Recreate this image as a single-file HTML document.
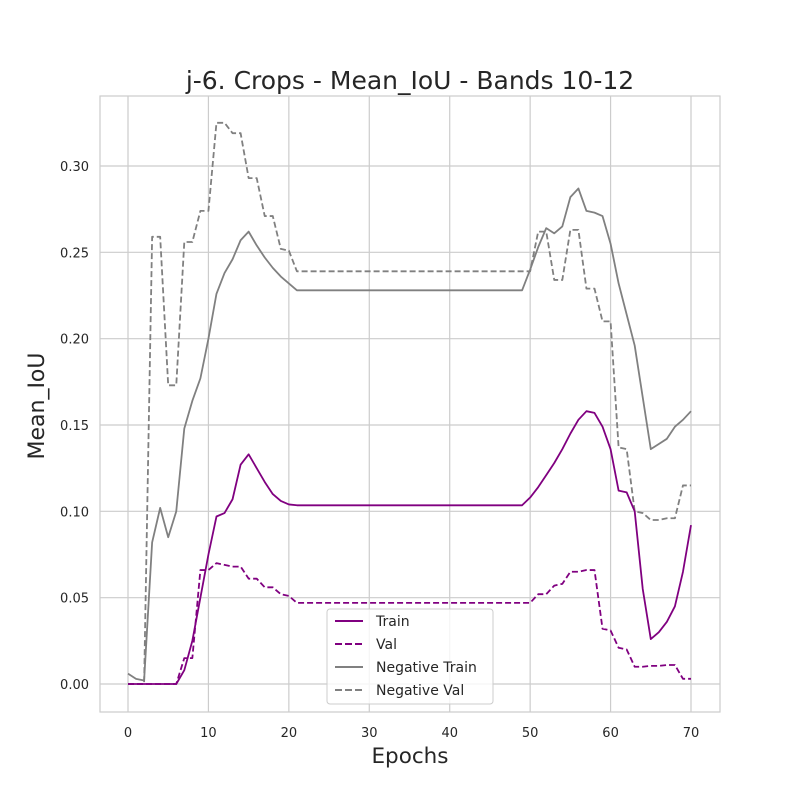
<!DOCTYPE html>
<html><head><meta charset="utf-8"><style>
body{margin:0;background:#fff}
svg{display:block;font-family:"DejaVu Sans","Liberation Sans",sans-serif}
</style></head><body>
<svg id="chart" width="800" height="800" xmlns="http://www.w3.org/2000/svg">
<rect width="800" height="800" fill="#fff"/>
<text x="410" y="89" text-anchor="middle" font-size="25" fill="#262626">j-6. Crops - Mean_IoU - Bands 10-12</text>
<g id="grid"></g>
<rect x="100" y="96" width="620" height="616" fill="none" stroke="#cccccc" stroke-width="1.2"/>
<g id="series"></g>
<text x="410" y="763" text-anchor="middle" font-size="21.5" fill="#262626">Epochs</text>
<text transform="translate(44,406) rotate(-90)" text-anchor="middle" font-size="22" fill="#262626">Mean_IoU</text>
<g>
<rect x="327" y="609" width="166" height="95" rx="3" fill="#fff" fill-opacity="0.8" stroke="#cccccc"/>
<line x1="335" y1="621" x2="363" y2="621" stroke="#800080" stroke-width="2"/>
<text x="376" y="626" font-size="14" fill="#262626">Train</text>
<line x1="335" y1="644" x2="363" y2="644" stroke="#800080" stroke-width="2" stroke-dasharray="7,3"/>
<text x="376" y="649" font-size="14" fill="#262626">Val</text>
<line x1="335" y1="667" x2="363" y2="667" stroke="#808080" stroke-width="2"/>
<text x="376" y="672" font-size="14" fill="#262626">Negative Train</text>
<line x1="335" y1="690" x2="363" y2="690" stroke="#808080" stroke-width="2" stroke-dasharray="7,3"/>
<text x="376" y="695" font-size="14" fill="#262626">Negative Val</text>
</g>
</svg>
<script>
const xTicks=[0,10,20,30,40,50,60,70];
const yTicks=[0,0.05,0.10,0.15,0.20,0.25,0.30];
const yTickLabels=["0.00","0.05","0.10","0.15","0.20","0.25","0.30"];
function rep(v,n){return Array(n).fill(v);}
const train=[0,0,0,0,0,0,0,0.008,0.025,0.05,0.075,0.097,0.099,0.107,0.127,0.133,0.125,0.117,0.11,0.106,0.104].concat(rep(0.1035,29),[0.108,0.114,0.121,0.128,0.136,0.145,0.153,0.158,0.157,0.149,0.136,0.112,0.111,0.1,0.055,0.026,0.03,0.036,0.045,0.065,0.092]);
const val=[0,0,0,0,0,0,0,0.015,0.015,0.066,0.066,0.07,0.069,0.068,0.068,0.061,0.061,0.056,0.056,0.052,0.051].concat(rep(0.047,30),[0.052,0.052,0.057,0.058,0.065,0.065,0.066,0.066,0.032,0.031,0.021,0.02,0.01,0.01,0.0105,0.0105,0.011,0.011,0.003,0.003]);
const negTrain=[0.006,0.003,0.002,0.082,0.102,0.085,0.1,0.148,0.164,0.177,0.2,0.226,0.238,0.246,0.257,0.262,0.254,0.247,0.241,0.236,0.232].concat(rep(0.228,29),[0.24,0.253,0.264,0.261,0.265,0.282,0.287,0.274,0.273,0.271,0.255,0.232,0.214,0.196,0.166,0.136,0.139,0.142,0.149,0.153,0.158]);
const negVal=[0,0,0,0.259,0.259,0.173,0.173,0.256,0.256,0.274,0.274,0.325,0.325,0.319,0.319,0.293,0.293,0.271,0.271,0.252,0.251].concat(rep(0.239,30),[0.262,0.262,0.234,0.234,0.263,0.263,0.229,0.229,0.21,0.21,0.137,0.136,0.1,0.099,0.095,0.095,0.096,0.096,0.115,0.115]);
const xs=v=>128+v*(691-128)/70;
const ys=v=>684-v*(684-166)/0.30;
const NS="http://www.w3.org/2000/svg";
const grid=document.getElementById('grid'), ser=document.getElementById('series');
function mk(tag,attrs,parent){const e=document.createElementNS(NS,tag);for(const k in attrs)e.setAttribute(k,attrs[k]);parent.appendChild(e);return e;}
xTicks.forEach(t=>{
 const l=mk('line',{x1:xs(t),x2:xs(t),y1:96,y2:712,stroke:'#cccccc','stroke-width':1.2},grid);
 
 
 const tx=mk('text',{x:xs(t),y:737,'text-anchor':'middle','font-size':13,fill:'#262626'},grid);
 tx.textContent=t;
 
 
});
yTicks.forEach((t,i)=>{
 const l=mk('line',{x1:100,x2:720,y1:ys(t),y2:ys(t),stroke:'#cccccc','stroke-width':1.2},grid);
 
 
 const tx=mk('text',{x:89,y:ys(t)+5,'text-anchor':'end','font-size':13,fill:'#262626'},grid);
 tx.textContent=yTickLabels[i];
 
 
});
function line(data,color,dash,name){
 const d=data.map((v,i)=>(i?'L':'M')+xs(i).toFixed(2)+','+ys(v).toFixed(2)).join('');
 const p=mk('path',{d:d,fill:'none',stroke:color,'stroke-width':1.8,'stroke-linejoin':'round'},ser);
 if(dash)p.setAttribute('stroke-dasharray','6,3');
 
 
}
line(negTrain,'#808080',false,'negative-train-line');
line(negVal,'#808080',true,'negative-val-line');
line(train,'#800080',false,'train-line');
line(val,'#800080',true,'val-line');
</script>
</body></html>
